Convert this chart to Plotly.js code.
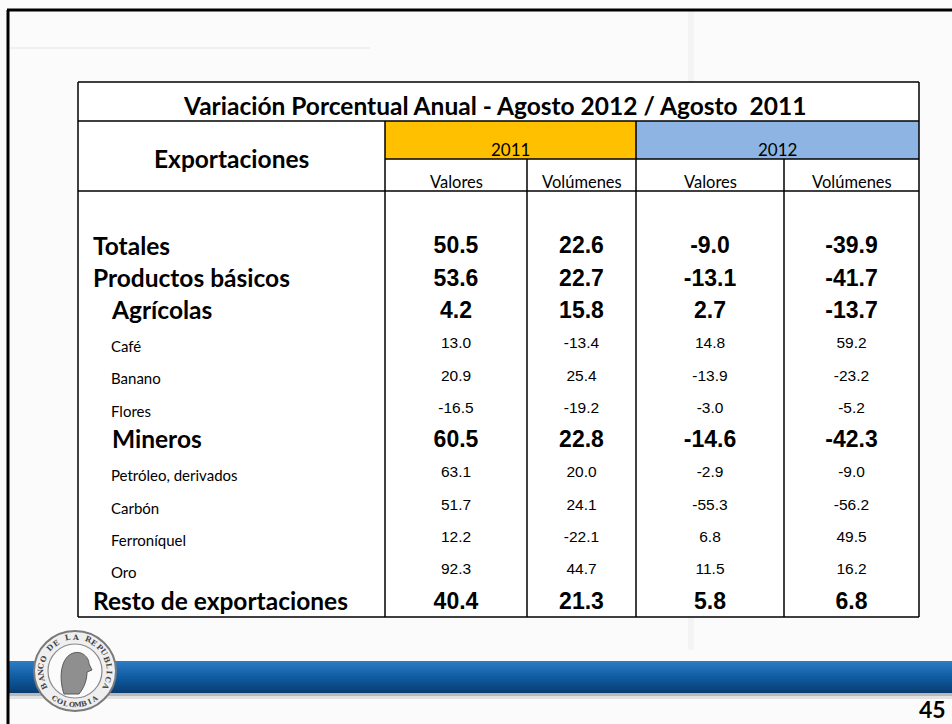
<!DOCTYPE html>
<html>
<head>
<meta charset="utf-8">
<script src="https://cdn.plot.ly/plotly-3.0.1.min.js"></script>
<style>html,body{margin:0;padding:0;background:#fbfbfb;}#chart{width:952px;height:724px;}</style>
</head>
<body>
<div id="chart"></div>
<script>
// ---------------- DATA ----------------
const tableTitle = "Variación Porcentual Anual - Agosto 2012 / Agosto  2011";
const stubHeader = "Exportaciones";
const years = ["2011", "2012"];
const measures = ["Valores", "Volúmenes"];
const rowLabels = ["Totales", "Productos básicos", "Agrícolas", "Café", "Banano", "Flores",
  "Mineros", "Petróleo, derivados", "Carbón", "Ferroníquel", "Oro", "Resto de exportaciones"];
const rowLevel = [0, 0, 1, 2, 2, 2, 1, 2, 2, 2, 2, 0];
const valores2011   = [50.5, 53.6, 4.2, 13.0, 20.9, -16.5, 60.5, 63.1, 51.7, 12.2, 92.3, 40.4];
const volumenes2011 = [22.6, 22.7, 15.8, -13.4, 25.4, -19.2, 22.8, 20.0, 24.1, -22.1, 44.7, 21.3];
const valores2012   = [-9.0, -13.1, 2.7, 14.8, -13.9, -3.0, -14.6, -2.9, -55.3, 6.8, 11.5, 5.8];
const volumenes2012 = [-39.9, -41.7, -13.7, 59.2, -23.2, -5.2, -42.3, -9.0, -56.2, 49.5, 16.2, 6.8];
const sealTop = "BANCO DE LA REPUBLICA";
const sealBottom = "COLOMBIA";
const pageNumber = "45";

// ---------------- LAYOUT / STYLE ----------------
const W = 952, H = 724;
const labelFont = "Lato, 'Open Sans', sans-serif";
const numFont = "'Liberation Sans', Arial, sans-serif";
const colEdges = [385, 527, 636, 784, 919];          // column borders (px)
const colCenters = [0,1,2,3].map(i => (colEdges[i] + colEdges[i+1]) / 2);
const tbl = {x0: 78, x1: 919, y0: 82, y1: 617, yTitle: 121, yYear: 159, ySub: 191};
const levelX = [93, 112, 111];
const levelSize = [24.5, 24.5, 15];
const levelShift = [1, 1, 4];     // labels sit a little lower than the numbers
// row axis: row i drawn at pixel rowTop + rowStep*i
const rowTop = 247.5, rowStep = 32.3;
const rangeFor = shift => [(H - rowTop - shift) / rowStep, -(rowTop + shift) / rowStep];

const columns = [valores2011, volumenes2011, valores2012, volumenes2012];

const traces = [];
// row label traces, one per level (each on its own row axis with a small shift)
[0, 1, 2].forEach(lv => {
  const idx = rowLabels.map((_, i) => i).filter(i => rowLevel[i] === lv);
  traces.push({
    type: "scatter", mode: "text", hoverinfo: "skip", showlegend: false,
    yaxis: lv < 2 ? "y3" : "y4",
    x: idx.map(() => levelX[lv]),
    y: idx.map(i => rowLabels[i]),
    text: idx.map(i => lv < 2 ? "<b>" + rowLabels[i] + "</b>" : rowLabels[i]),
    textposition: "middle right",
    textfont: {family: labelFont, size: levelSize[lv], color: "#000"}
  });
});
// value columns
columns.forEach((vals, c) => {
  traces.push({
    type: "scatter", mode: "text", hoverinfo: "skip", showlegend: false,
    x: vals.map(() => colCenters[c]),
    y: rowLabels,
    text: vals.map((v, i) => rowLevel[i] < 2 ? "<b>" + v.toFixed(1) + "</b>" : v.toFixed(1)),
    textposition: "middle center",
    textfont: {family: numFont, size: vals.map((v, i) => rowLevel[i] < 2 ? 23 : 15.5), color: "#000"}
  });
});

// ---------------- SHAPES ----------------
const shapes = [];
const L = (x0, y0, x1, y1, w, col) => shapes.push({type: "line", xref: "x", yref: "y2", x0, y0, x1, y1,
  line: {color: col || "#000", width: w || 1.5}, layer: "above"});
const R = (x0, y0, x1, y1, fill, line) => shapes.push({type: "rect", xref: "x", yref: "y2", x0, y0, x1, y1,
  fillcolor: fill, line: line || {width: 0}, layer: "below"});

// faint slide decoration
R(8, 10, 952, 724, "#fbfbfb");
R(8, 47, 370, 49, "#f0f0f0");
R(688, 10, 694, 650, "#f4f4f4");
// table background & colored header cells
R(tbl.x0, tbl.y0, tbl.x1, tbl.y1, "#ffffff");
R(colEdges[0], tbl.yTitle, colEdges[2], tbl.yYear, "#FFC000");
R(colEdges[2], tbl.yTitle, colEdges[4], tbl.yYear, "#8EB4E3");
// table lines
L(tbl.x0, tbl.y0, tbl.x1, tbl.y0);
L(tbl.x0, tbl.y1, tbl.x1, tbl.y1);
L(tbl.x0, tbl.y0, tbl.x0, tbl.y1);
L(tbl.x1, tbl.y0, tbl.x1, tbl.y1);
L(tbl.x0, tbl.yTitle, tbl.x1, tbl.yTitle);
L(colEdges[0], tbl.yYear, tbl.x1, tbl.yYear);
L(tbl.x0, tbl.ySub, tbl.x1, tbl.ySub);
L(colEdges[0], tbl.yTitle, colEdges[0], tbl.y1);
L(colEdges[2], tbl.yTitle, colEdges[2], tbl.y1);
L(colEdges[1], tbl.yYear, colEdges[1], tbl.y1);
L(colEdges[3], tbl.yYear, colEdges[3], tbl.y1);

// bottom blue bar with a vertical gradient
const barTop = 661, barBot = 693, n = 16;
const c0 = [44, 122, 196], c1 = [16, 92, 162], c2 = [10, 62, 115];
for (let k = 0; k < n; k++) {
  const t = k / (n - 1);
  const a = t < 0.5 ? c0 : c1, b = t < 0.5 ? c1 : c2, tt = t < 0.5 ? t * 2 : (t - 0.5) * 2;
  const col = a.map((v, j) => Math.round(v + (b[j] - v) * tt));
  R(8, barTop + k * (barBot - barTop) / n, W, barTop + (k + 1) * (barBot - barTop) / n + 0.3,
    "rgb(" + col.join(",") + ")");
}
R(8, barBot, W, barBot + 3, "#b9b9b9");
R(8, barBot + 3, W, barBot + 6, "#e2e2e2");

// logo (seal)
const seal = {cx: 75, cy: 671, r: 41, rt: 34, ri: 27};
shapes.push({type: "circle", xref: "x", yref: "y2", x0: seal.cx - seal.r, y0: seal.cy - seal.r + 1,
  x1: seal.cx + seal.r, y1: seal.cy + seal.r - 1,
  fillcolor: "#efefef", line: {color: "#7a7a7a", width: 2}, layer: "above"});
shapes.push({type: "circle", xref: "x", yref: "y2", x0: seal.cx - seal.ri, y0: seal.cy - seal.ri,
  x1: seal.cx + seal.ri, y1: seal.cy + seal.ri,
  fillcolor: "#fbfbfb", line: {color: "#8a8a8a", width: 1.2}, layer: "above"});
shapes.push({type: "path", xref: "x", yref: "y2",
  path: "M 64 694 C 59 680 60 660 71 654 C 81 649 89 657 89 664 L 92 670 L 87 672 C 87 680 84 688 79 694 Z",
  fillcolor: "#8f8f8f", line: {color: "#5a5a5a", width: 1}, layer: "above"});

// outer slide border
L(7, 10, W, 10, 3);
L(8, 10, 8, H, 3);

// ---------------- ANNOTATIONS ----------------
const ann = [];
const A = (text, x, y, size, family, opts) => ann.push(Object.assign({
  text, x, y, xref: "x", yref: "y2", showarrow: false, xanchor: "center", yanchor: "middle",
  font: {family, size, color: "#000"}}, opts || {}));
A("<b>" + tableTitle + "</b>", (tbl.x0 + tbl.x1) / 2 - 4, 105, 24.5, labelFont);
A("<b>" + stubHeader + "</b>", (tbl.x0 + colEdges[0]) / 2, 158, 24.5, labelFont);
A(years[0], (colEdges[0] + colEdges[2]) / 2, 149, 17, labelFont);
A(years[1], (colEdges[2] + colEdges[4]) / 2, 149, 17, labelFont);
measures.concat(measures).forEach((m, i) => A(m, colCenters[i], 182, 16.5, labelFont));
A("<b>" + pageNumber + "</b>", 932, 709, 23, labelFont, {borderpad: 0});

// seal lettering along the ring
const serif = "'DejaVu Serif', 'Liberation Serif', serif";
const topChars = sealTop.split("");
topChars.forEach((ch, k) => {
  const th = 206 - k * (232 / (topChars.length - 1));
  const rad = th * Math.PI / 180;
  A("<b>" + ch + "</b>", seal.cx + seal.rt * Math.cos(rad), seal.cy - seal.rt * Math.sin(rad), 7.5, serif,
    {textangle: 90 - th, font: {family: serif, size: 7.5, color: "#444"}});
});
const botChars = sealBottom.split("");
botChars.forEach((ch, k) => {
  const th = 234 + k * (72 / (botChars.length - 1));
  const rad = th * Math.PI / 180;
  A("<b>" + ch + "</b>", seal.cx + seal.rt * Math.cos(rad), seal.cy - seal.rt * Math.sin(rad), 7, serif,
    {textangle: 270 - th, font: {family: serif, size: 7, color: "#444"}});
});

const layout = {
  width: W, height: H,
  margin: {l: 0, r: 0, t: 0, b: 0},
  paper_bgcolor: "#fbfbfb", plot_bgcolor: "rgba(0,0,0,0)",
  showlegend: false,
  xaxis: {range: [0, W], visible: false, fixedrange: true},
  yaxis: {type: "category", categoryorder: "array", categoryarray: rowLabels,
          range: rangeFor(0), visible: false, fixedrange: true},
  yaxis2: {range: [H, 0], overlaying: "y", visible: false, fixedrange: true},
  yaxis3: {type: "category", categoryorder: "array", categoryarray: rowLabels,
           range: rangeFor(levelShift[0]), overlaying: "y", visible: false, fixedrange: true},
  yaxis4: {type: "category", categoryorder: "array", categoryarray: rowLabels,
           range: rangeFor(levelShift[2]), overlaying: "y", visible: false, fixedrange: true},
  shapes, annotations: ann
};

Plotly.newPlot("chart", traces, layout, {staticPlot: true, displayModeBar: false});
</script>
</body>
</html>
